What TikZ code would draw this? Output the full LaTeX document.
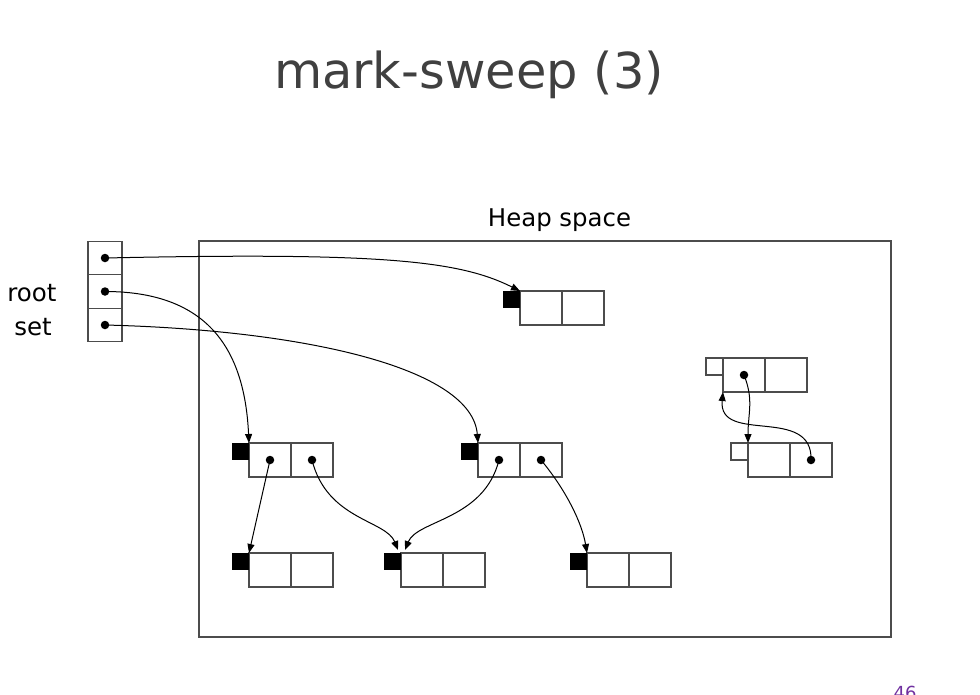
\documentclass[tikz,border=0pt]{standalone}
\usepackage{fontspec}
\setmainfont{DejaVu Sans}
\usetikzlibrary{arrows.meta,positioning}
\definecolor{pagenum}{RGB}{112,48,160}
\begin{document}
\begin{tikzpicture}[x=1pt,y=1pt,
    cell/.style={draw=black!70,line width=1.1pt,minimum width=42pt,minimum height=34pt,inner sep=0pt,outer sep=0pt},
    markbox/.style={fill=black,minimum size=17pt,inner sep=0pt,outer sep=0pt},
    freebox/.style={draw=black!70,fill=white,line width=1.1pt,minimum size=17pt,inner sep=0pt,outer sep=0pt},
    ptr/.style={-{Triangle[length=9pt,width=7pt]},line width=1pt},
    dot/.style={circle,fill=black,inner sep=0pt,minimum size=8.5pt}]
    \useasboundingbox (0,0) rectangle (980,-694);
    % titles
    \node[anchor=base,font=\fontsize{49.5}{55}\selectfont,text=black!75] (title) at (469,-88) {mark-sweep (3)};
    \node[anchor=base,font=\fontsize{24.4}{28}\selectfont] (heaplabel) at (559.5,-226) {Heap space};
    \node[anchor=base,font=\fontsize{24.5}{28}\selectfont] (rootlabel) at (32,-301) {root};
    \node[anchor=base,font=\fontsize{24.5}{28}\selectfont] (setlabel) at (33,-335) {set};
    \node[anchor=north,inner sep=0pt,text=pagenum,font=\fontsize{18}{20}\selectfont] (page) at (905,-686) {46};
    % heap
    \node[draw=black!70,line width=1.1pt,minimum width=692pt,minimum height=396pt,inner sep=0pt] (heap) at (545,-439) {};
    % root set
    \foreach \i/\y in {1/258,2/291.5,3/325} {
        \node[cell,minimum width=34pt,minimum height=33.7pt] (r\i) at (105,-\y) {};
        \node[dot] (r\i p) at (r\i) {};
    }
    % heap objects
    \foreach \n/\x/\y/\m in {a/520/291/markbox,b/249/443/markbox,c/478/443/markbox,
            d/249/553/markbox,e/401/553/markbox,f/587/553/markbox,
            g/723/358/freebox,h/748/443/freebox} {
        \node[cell] (\n-l) at ({\x+21},{-\y-17}) {};
        \node[cell,right=0pt of \n-l] (\n-r) {};
        \node[\m,anchor=north east] (\n-m) at (\n-l.north west) {};
    }
    \node[dot] (b-p1) at (b-l) {};
    \node[dot] (b-p2) at (b-r) {};
    \node[dot] (c-p1) at (c-l) {};
    \node[dot] (c-p2) at (c-r) {};
    \node[dot] (g-p) at (g-l) {};
    \node[dot] (h-p) at (h-r) {};
    % pointers
    \draw[ptr] (r1p.center) .. controls +(280,6) and +(-60,30) .. (a-l.north west);
    \draw[ptr] (r2p.center) .. controls +(110,0) and +(-4,85) .. (b-l.north west);
    \draw[ptr] (r3p.center) .. controls +(200,-5) and +(-6,75) .. (c-l.north west);
    \draw[ptr] (b-p1.center) -- (d-l.north west);
    \draw[ptr] (b-p2.center) .. controls +(15,-60) and +(-12,30) .. ([shift={(-3,3)}]e-l.north west);
    \draw[ptr] (c-p1.center) .. controls +(-15,-60) and +(12,30) .. ([shift={(4,3)}]e-l.north west);
    \draw[ptr] (c-p2.center) .. controls +(25,-30) and +(-5,30) .. (f-l.north west);
    \draw[ptr] (g-p.center) .. controls +(10,-25) and +(0,30) .. (h-l.north west);
    \draw[ptr] (h-p.center) .. controls +(2,55) and +(-5,-53) .. (g-l.south west);
\end{tikzpicture}
\end{document}
